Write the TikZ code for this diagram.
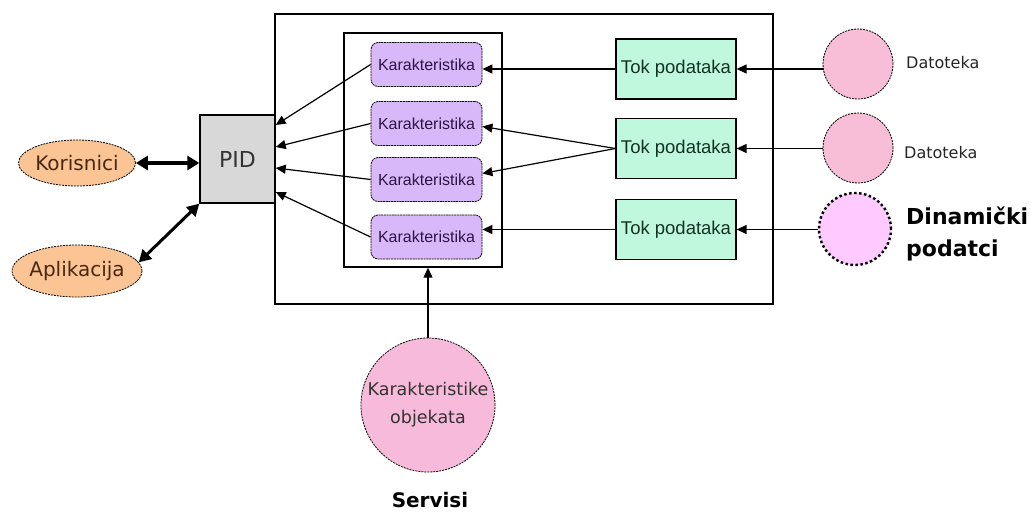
\documentclass[tikz,border=0pt]{standalone}
\usepackage{fontspec}
\setmainfont{DejaVu Sans}
\newfontfamily\lib{Liberation Sans}
\newfontfamily\dvs{DejaVu Sans}
\usetikzlibrary{arrows.meta,shapes.geometric}
\definecolor{korfill}{RGB}{250,196,148}
\definecolor{pidfill}{RGB}{216,216,216}
\definecolor{karfill}{RGB}{216,184,248}
\definecolor{tokfill}{RGB}{192,248,222}
\definecolor{datfill}{RGB}{248,190,215}
\definecolor{dinfill}{RGB}{255,202,255}
\definecolor{serfill}{RGB}{248,186,218}
\definecolor{kartext}{RGB}{45,20,70}
\definecolor{toktext}{RGB}{20,50,35}
\definecolor{kortext}{RGB}{75,40,20}
\tikzset{
  ellbox/.style={ellipse, draw, fill=korfill, line width=0.8pt, dash pattern=on 2pt off 1pt, inner sep=0pt, text=kortext, font=\dvs\fontsize{20}{24}\selectfont},
  pidbox/.style={rectangle, draw, fill=pidfill, line width=1.4pt, minimum width=75pt, minimum height=88pt, inner sep=0pt, font=\dvs\fontsize{22}{26}\selectfont, text=black!80},
  karbox/.style={rectangle, rounded corners=7pt, draw, fill=karfill, line width=0.8pt, dash pattern=on 2pt off 0.7pt, minimum width=111pt, minimum height=44pt, inner sep=0pt, text=kartext, font=\lib\fontsize{16}{19}\selectfont},
  tokbox/.style={rectangle, draw, fill=tokfill, line width=1.3pt, minimum width=120pt, minimum height=60pt, inner sep=0pt, text=toktext, font=\lib\fontsize{18.5}{22}\selectfont},
  datcirc/.style={circle, draw, fill=datfill, line width=0.8pt, dash pattern=on 2pt off 1pt, minimum size=70pt, inner sep=0pt},
  dincirc/.style={circle, draw, fill=dinfill, line width=2.4pt, dash pattern=on 2.5pt off 2.5pt, minimum size=72pt, inner sep=0pt},
  sercirc/.style={circle, draw, fill=serfill, line width=0.8pt, dash pattern=on 2pt off 1pt, minimum size=134pt, inner sep=0pt},
  frame/.style={rectangle, draw, line width=1.4pt, inner sep=0pt},
  arr/.style={-{Triangle[length=10pt,width=9pt]}, line width=1.2pt},
  bigarr/.style={{Triangle[length=12pt,width=14pt]}-{Triangle[length=12pt,width=14pt]}, line width=4pt},
  medarr/.style={{Triangle[length=12pt,width=13pt]}-{Triangle[length=12pt,width=13pt]}, line width=3pt},
  lbl/.style={inner sep=0pt, anchor=west},
}
\begin{document}
\begin{tikzpicture}[x=1pt,y=-1pt]
\useasboundingbox (0,0) rectangle (1032,513);
% frames
\node[frame, minimum width=498pt, minimum height=290pt] (outer) at (524,159) {};
\node[frame, minimum width=158pt, minimum height=234pt] (inner) at (423,150) {};
% left side
\node[ellbox, minimum width=117pt, minimum height=46pt] (kor) at (77,163) {\makebox[0pt]{Korisnici}};
\node[ellbox, minimum width=130pt, minimum height=52pt] (apl) at (77,271) {\makebox[0pt]{Aplikacija}};
\node[pidbox] (pid) at (237.5,159) {PID};
% karakteristika
\node[karbox] (k1) at (426.5,64.5) {Karakteristika};
\node[karbox] (k2) at (426.5,123.5) {Karakteristika};
\node[karbox] (k3) at (426.5,179.5) {Karakteristika};
\node[karbox] (k4) at (426.5,237) {Karakteristika};
% tok podataka
\node[tokbox] (t1) at (676,69) {Tok podataka};
\node[tokbox] (t2) at (676,148.5) {Tok podataka};
\node[tokbox] (t3) at (676,229.5) {Tok podataka};
% sources
\node[datcirc] (d1) at (858,64) {};
\node[datcirc] (d2) at (858,148) {};
\node[dincirc] (d3) at (855,229) {};
\node[lbl, font=\dvs\fontsize{16}{19}\selectfont, text=black!85] (l1) at (906,63) {Datoteka};
\node[lbl, font=\dvs\fontsize{16}{19}\selectfont, text=black!85] (l2) at (904,153) {Datoteka};
\node[lbl, font=\dvs\bfseries\fontsize{22}{32}\selectfont, align=left] (l3) at (906,234) {Dinamički\\podatci};
% servisi
\node[sercirc] (ser) at (428,405) {};
\node[align=center, inner sep=0pt, font=\dvs\fontsize{17.5}{28}\selectfont, text=black!80] (sertext) at (ser) {Karakteristike\\objekata};
\node[font=\dvs\bfseries\fontsize{20}{24}\selectfont, inner sep=0pt] (serlbl) at (430,500) {Servisi};
% connectors
\draw[bigarr] (kor.east) -- (pid.west |- kor.east);
\draw[medarr] (apl.8) -- (pid.south west);
\draw[arr] (k1.west) -- ([yshift=34pt]pid.east);
\draw[arr] (k2.west) -- ([yshift=12pt]pid.east);
\draw[arr] (k3.west) -- ([yshift=-9pt]pid.east);
\draw[arr] (k4.west) -- ([yshift=-33pt]pid.east);
\draw[arr] (t1.west) -- (k1.east |- t1.west);
\draw[arr] (t2.west) -- ([yshift=-3pt]k2.east);
\draw[arr] (t2.west) -- ([yshift=6pt]k3.east);
\draw[arr] (t3.west) -- (k4.east |- t3.west);
\draw[arr] (d1.west |- t1.east) -- (t1.east);
\draw[arr] (d2.west |- t2.east) -- (t2.east);
\draw[arr] (d3.west |- t3.east) -- (t3.east);
\draw[arr] (ser.north) -- (ser.north |- inner.south);
\end{tikzpicture}
\end{document}
